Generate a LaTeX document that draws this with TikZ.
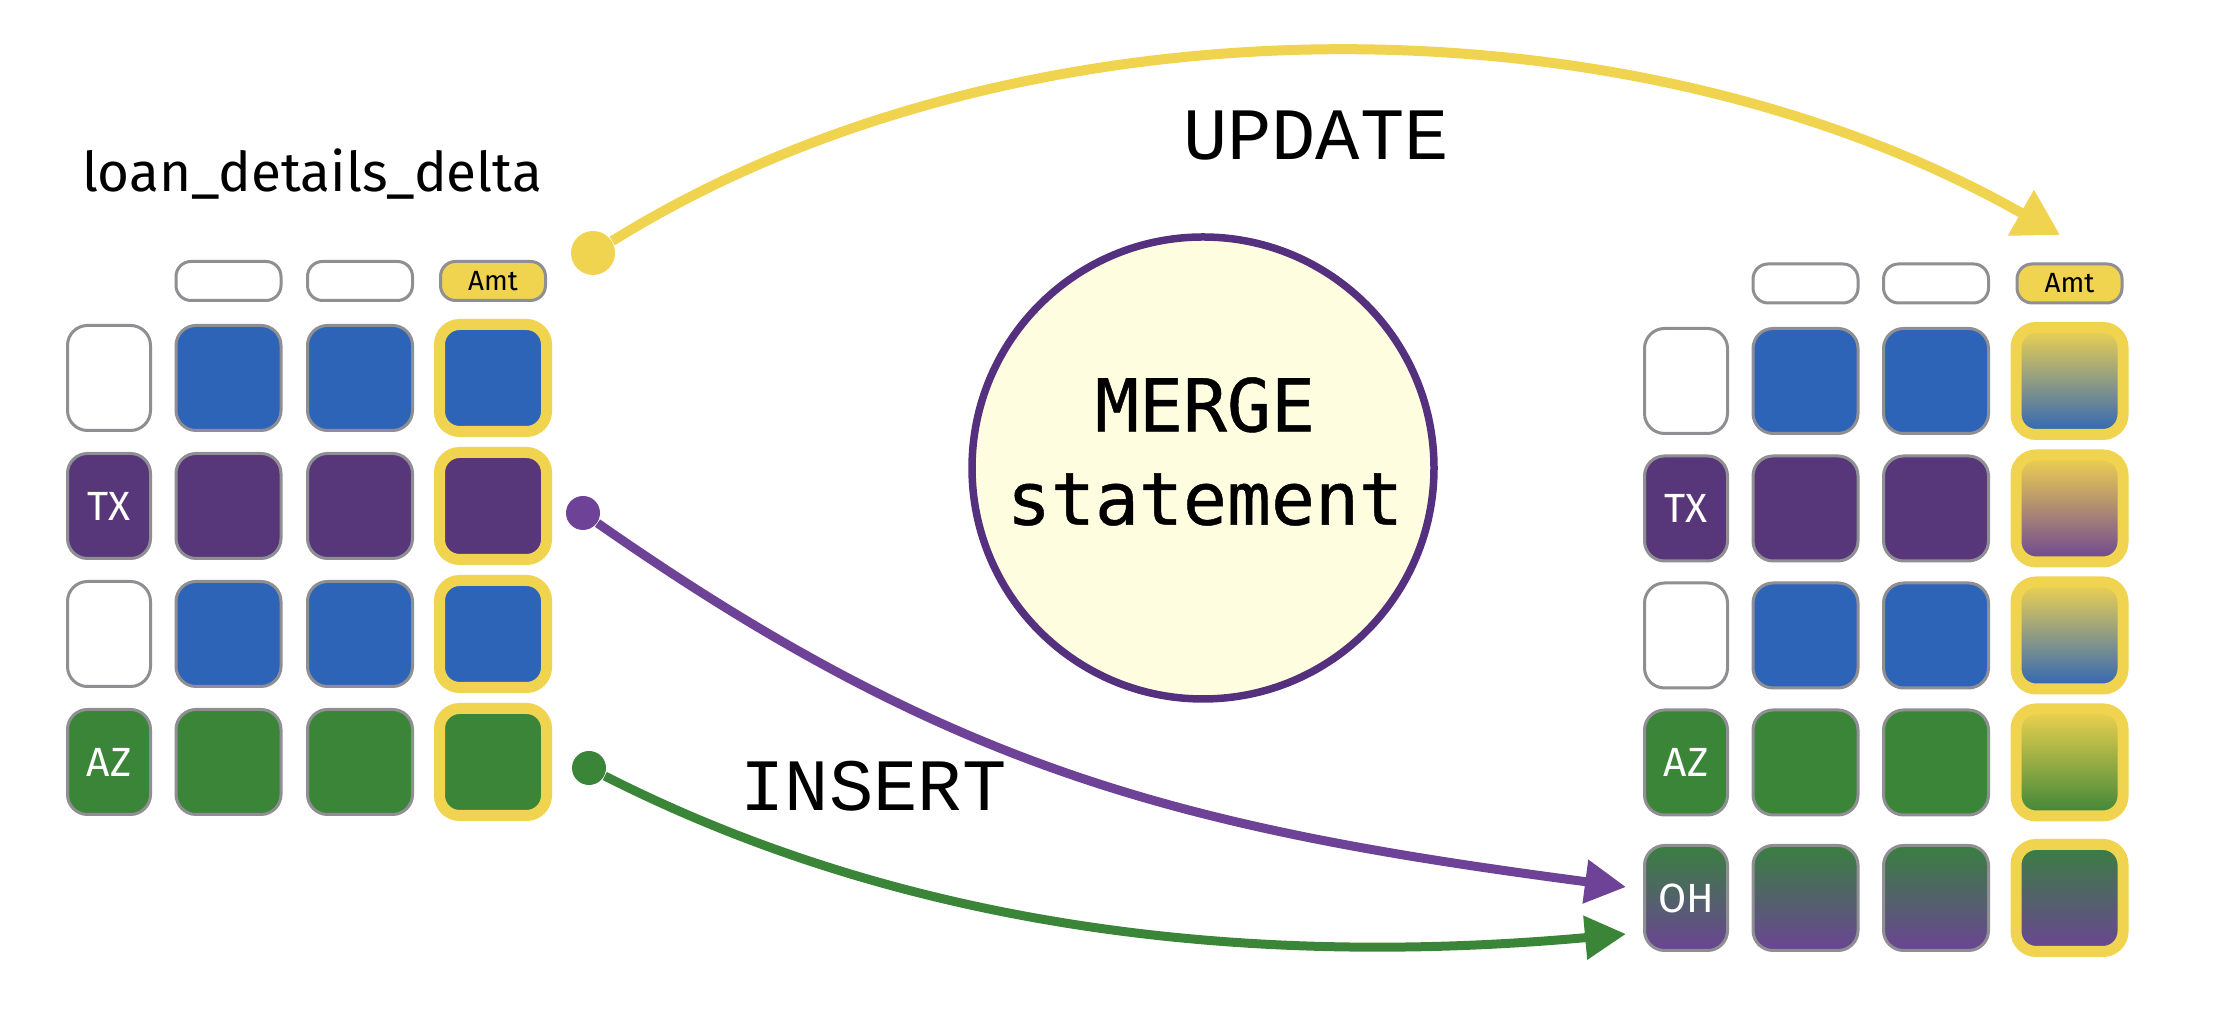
\documentclass[tikz,border=0pt]{standalone}
\usepackage{fontspec}
\setmainfont{Fira Sans}
\newfontfamily\monofont{DejaVu Sans Mono}[FakeBold=0.6]
\newfontfamily\thinmono{Liberation Mono}
\usetikzlibrary{arrows.meta}

\definecolor{cellblue}{HTML}{2D64B8}
\definecolor{cellpurple}{HTML}{58367A}
\definecolor{cellgreen}{HTML}{3B8538}
\definecolor{cellgray}{HTML}{8E8E93}
\definecolor{amtyellow}{HTML}{F0D34F}
\definecolor{ohgreen}{HTML}{3A7F40}
\definecolor{ohpurple}{HTML}{6B4494}
\definecolor{arrowpurple}{HTML}{6E4296}
\definecolor{arrowgreen}{HTML}{3A8537}
\definecolor{circfill}{HTML}{FFFDE0}
\definecolor{circline}{HTML}{54307F}

\begin{document}
\begin{tikzpicture}[
  cell/.style={rectangle, rounded corners=0.2cm, draw=cellgray, line width=0.03cm,
    minimum width=1.05cm, minimum height=1.05cm, inner sep=0pt},
  keycell/.style={cell, minimum width=0.83cm, text=white, font=\fontsize{11.6}{14}\selectfont},
  amtcell/.style={cell, draw=amtyellow, line width=0.11cm, minimum width=1.07cm, minimum height=1.07cm},
  hdrbox/.style={rectangle, rounded corners=0.15cm, draw=cellgray, line width=0.03cm, fill=white,
    minimum width=1.05cm, minimum height=0.39cm, inner sep=0pt, font=\fontsize{7.9}{9}\selectfont},
  dot/.style={circle, inner sep=0pt, minimum size=0.34cm},
  opword/.style={anchor=base, font=\thinmono\fontsize{21}{25}\selectfont},
  flow/.style={line width=0.09cm, -{Triangle[length=0.41cm,width=0.42cm]}}
]
\useasboundingbox (0,0) rectangle (22.26,10.20);

% source table
\node[anchor=base, font=\fontsize{15.6}{19}\selectfont] (srctitle) at (3.12,8.28) {loan\_details\_delta};
\node[hdrbox] (lh2) at (2.285,7.39) {};
\node[hdrbox] (lh3) at (3.60,7.39) {};
\node[hdrbox, fill=amtyellow] (lh4) at (4.93,7.39) {Amt};

\node[keycell, fill=white] (l11) at (1.09,6.42) {};
\node[cell, fill=cellblue] (l12) at (2.285,6.42) {};
\node[cell, fill=cellblue] (l13) at (3.60,6.42) {};
\node[amtcell, fill=cellblue] (l14) at (4.93,6.42) {};

\node[keycell, fill=cellpurple] (l21) at (1.09,5.14) {TX};
\node[cell, fill=cellpurple] (l22) at (2.285,5.14) {};
\node[cell, fill=cellpurple] (l23) at (3.60,5.14) {};
\node[amtcell, fill=cellpurple] (l24) at (4.93,5.14) {};

\node[keycell, fill=white] (l31) at (1.09,3.86) {};
\node[cell, fill=cellblue] (l32) at (2.285,3.86) {};
\node[cell, fill=cellblue] (l33) at (3.60,3.86) {};
\node[amtcell, fill=cellblue] (l34) at (4.93,3.86) {};

\node[keycell, fill=cellgreen] (l41) at (1.09,2.58) {AZ};
\node[cell, fill=cellgreen] (l42) at (2.285,2.58) {};
\node[cell, fill=cellgreen] (l43) at (3.60,2.58) {};
\node[amtcell, fill=cellgreen] (l44) at (4.93,2.58) {};

% target table
\node[hdrbox] (rh2) at (18.055,7.365) {};
\node[hdrbox] (rh3) at (19.36,7.365) {};
\node[hdrbox, fill=amtyellow] (rh4) at (20.695,7.365) {Amt};

\node[keycell, fill=white] (r11) at (16.86,6.39) {};
\node[cell, fill=cellblue] (r12) at (18.055,6.39) {};
\node[cell, fill=cellblue] (r13) at (19.36,6.39) {};
\node[amtcell, top color=amtyellow, bottom color=cellblue] (r14) at (20.695,6.39) {};

\node[keycell, fill=cellpurple] (r21) at (16.86,5.115) {TX};
\node[cell, fill=cellpurple] (r22) at (18.055,5.115) {};
\node[cell, fill=cellpurple] (r23) at (19.36,5.115) {};
\node[amtcell, top color=amtyellow, bottom color=ohpurple] (r24) at (20.695,5.115) {};

\node[keycell, fill=white] (r31) at (16.86,3.845) {};
\node[cell, fill=cellblue] (r32) at (18.055,3.845) {};
\node[cell, fill=cellblue] (r33) at (19.36,3.845) {};
\node[amtcell, top color=amtyellow, bottom color=cellblue] (r34) at (20.695,3.845) {};

\node[keycell, fill=cellgreen] (r41) at (16.86,2.575) {AZ};
\node[cell, fill=cellgreen] (r42) at (18.055,2.575) {};
\node[cell, fill=cellgreen] (r43) at (19.36,2.575) {};
\node[amtcell, top color=amtyellow, bottom color=cellgreen] (r44) at (20.695,2.575) {};

\node[keycell, top color=ohgreen, bottom color=ohpurple] (r51) at (16.86,1.22) {OH};
\node[cell, top color=ohgreen, bottom color=ohpurple] (r52) at (18.055,1.22) {};
\node[cell, top color=ohgreen, bottom color=ohpurple] (r53) at (19.36,1.22) {};
\node[amtcell, top color=ohgreen, bottom color=ohpurple] (r54) at (20.695,1.22) {};

% merge circle
\node[circle, fill=circfill, draw=circline, line width=0.075cm, minimum size=4.62cm, inner sep=0pt] (merge) at (12.03,5.52) {};
\node[font=\monofont\fontsize{20.8}{26.5}\selectfont, align=center] (mergelbl) at (12.05,5.685) {MERGE\\statement};

% update arrow
\node[dot, fill=amtyellow, minimum size=0.44cm] (amtdot) at (5.93,7.67) {};
\coordinate (updtip) at (20.60,7.85);
\draw[amtyellow, line width=0.1cm, -{Triangle[length=0.45cm,width=0.5cm]}] (amtdot)
  .. controls (10.14,10.29) and (16.27,10.31) .. (updtip);
\node[opword] (updlbl) at (13.16,8.60) {UPDATE};

% insert arrows
\node[dot, fill=arrowpurple] (txdot) at (5.83,5.07) {};
\node[dot, fill=arrowgreen] (azdot) at (5.89,2.52) {};
\coordinate (txtip) at (16.26,1.33);
\coordinate (aztip) at (16.26,0.86);
\draw[flow, arrowpurple] (txdot) .. controls (9.51,2.50) and (11.805,1.915) .. (txtip);
\draw[flow, arrowgreen] (azdot) .. controls (9.26,0.81) and (12.78,0.545) .. (aztip);
\node[opword] (inslbl) at (8.735,2.09) {INSERT};
\end{tikzpicture}
\end{document}
